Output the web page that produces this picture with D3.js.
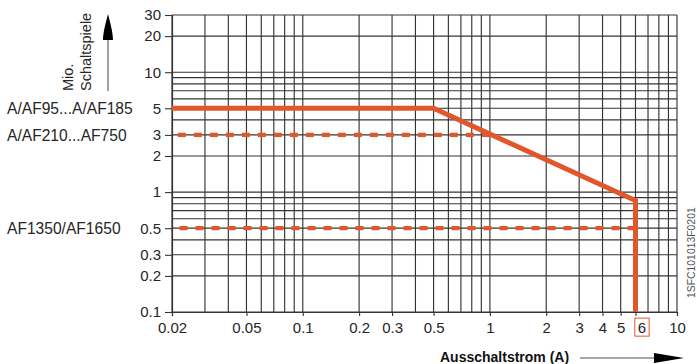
<!DOCTYPE html>
<html>
<head>
<meta charset="utf-8">
<script src="https://cdn.jsdelivr.net/npm/d3@7"></script>
<style>
  html, body { margin: 0; padding: 0; background: #fff; }
  svg { display: block; font-family: "Liberation Sans", Arial, Helvetica, sans-serif; }
</style>
</head>
<body>
<svg id="chart" width="697" height="364"></svg>
<script>
// Switching current (A) vs. electrical durability (million operations)
const xTickValues = [0.02, 0.05, 0.1, 0.2, 0.3, 0.5, 1, 2, 3, 4, 5, 6, 10];
const xTickLabels = ["0.02", "0.05", "0.1", "0.2", "0.3", "0.5", "1", "2", "3", "4", "5", "6", "10"];
const yTickValues = [0.1, 0.2, 0.3, 0.5, 1, 2, 3, 5, 10, 20, 30];
const yTickLabels = ["0.1", "0.2", "0.3", "0.5", "1", "2", "3", "5", "10", "20", "30"];

// Contactor families and their rated durability levels
const seriesNames = ["A/AF95...A/AF185", "A/AF210...AF750", "AF1350/AF1650"];
const seriesLevels = [5, 3, 0.5];

// Curve for A/AF95...A/AF185 (solid)
const curveA_current = [0.02, 0.5, 6, 6];
const curveA_ops = [5, 5, 0.85, 0.1];
// A/AF210...AF750 (dashed)
const curveB_current = [0.02, 1];
const curveB_ops = [3, 3];
// AF1350/AF1650 (dashed)
const curveC_current = [0.02, 6];
const curveC_ops = [0.5, 0.5];

const highlightedTick = 6;

const svg = d3.select("#chart");
const ORANGE = "#e1562b";
const GRID = "#353535";
const TEXT = "#262626";

const x = d3.scaleLog().domain([0.02, 10]).range([172, 677]);
const y = d3.scaleLog().domain([0.1, 30]).range([312, 15]);

// grid values: every 1..9 multiple within each decade
function logGrid(lo, hi) {
  const out = [];
  for (let e = -3; e <= 2; e++) {
    for (let k = 1; k <= 9; k++) {
      const v = +(k * Math.pow(10, e)).toPrecision(6);
      if (v >= lo - 1e-9 && v <= hi + 1e-9) out.push(v);
    }
  }
  return out;
}
const xGrid = logGrid(0.02, 10);
const yGrid = logGrid(0.1, 30).filter(v => v <= 10 || v === 20 || v === 30);

const grid = svg.append("g");
grid.selectAll("line.vx").data(xGrid).join("line")
  .attr("x1", d => x(d)).attr("x2", d => x(d))
  .attr("y1", y(30)).attr("y2", y(0.1))
  .attr("stroke", GRID).attr("stroke-width", 1.15);
grid.selectAll("line.hy").data(yGrid).join("line")
  .attr("x1", x(0.02)).attr("x2", x(10))
  .attr("y1", d => y(d)).attr("y2", d => y(d))
  .attr("stroke", GRID).attr("stroke-width", 1.15);

// Axes (ticks + labels) via d3 axis generators
const yAxis = d3.axisLeft(y).tickValues(yTickValues)
  .tickFormat((d, i) => yTickLabels[i]).tickSize(7).tickPadding(4);
const gy = svg.append("g").attr("transform", `translate(${x(0.02)},0)`).call(yAxis);
gy.select(".domain").attr("stroke", GRID).attr("stroke-width", 1.2);
gy.selectAll(".tick line").attr("stroke", GRID).attr("stroke-width", 1.1);
gy.selectAll(".tick text").attr("font-size", 15).attr("fill", TEXT)
  .attr("font-family", "Liberation Sans, Arial, sans-serif");

const xAxis = d3.axisBottom(x).tickValues(xTickValues)
  .tickFormat((d, i) => xTickLabels[i]).tickSize(4).tickPadding(6);
const gx = svg.append("g").attr("transform", `translate(0,${y(0.1)})`).call(xAxis);
gx.select(".domain").attr("stroke", GRID).attr("stroke-width", 1.2);
gx.selectAll(".tick line").attr("stroke", GRID).attr("stroke-width", 1.1);
gx.selectAll(".tick text").attr("font-size", 15).attr("fill", TEXT)
  .attr("font-family", "Liberation Sans, Arial, sans-serif");

// the highlighted "6" label sits right of the vertical curve segment, framed
gx.selectAll(".tick").filter(d => d === highlightedTick).each(function () {
  const t = d3.select(this).select("text").attr("dx", 6);
  const bb = t.node().getBBox();
  d3.select(this).append("rect")
    .attr("x", bb.x - 3).attr("y", bb.y - 0.5)
    .attr("width", bb.width + 6).attr("height", bb.height + 1)
    .attr("fill", "none").attr("stroke", ORANGE).attr("stroke-width", 1);
});

// Curves (dashed ones drawn from their right end so a dash meets the end point)
const line = d3.line().x(d => x(d[0])).y(d => y(d[1]));
const zip = (a, b) => a.map((v, i) => [v, b[i]]);

svg.append("path").datum(zip(curveB_current, curveB_ops).reverse())
  .attr("d", line).attr("fill", "none").attr("stroke", ORANGE)
  .attr("stroke-width", 4.2).attr("stroke-dasharray", "8,8");
svg.append("path").datum(zip(curveC_current, curveC_ops).reverse())
  .attr("d", line).attr("fill", "none").attr("stroke", ORANGE)
  .attr("stroke-width", 4.2).attr("stroke-dasharray", "8,8");
svg.append("path").datum(zip(curveA_current, curveA_ops))
  .attr("d", line).attr("fill", "none").attr("stroke", ORANGE)
  .attr("stroke-width", 5).attr("stroke-linejoin", "miter");

// Series labels at the left
svg.append("g").selectAll("text").data(seriesNames).join("text")
  .attr("x", 7).attr("y", (d, i) => y(seriesLevels[i]))
  .attr("dy", "0.36em").attr("font-size", 15.6).attr("fill", TEXT)
  .text(d => d);

// Y axis title with upward arrow
svg.append("text").attr("transform", "translate(73,91) rotate(-90)")
  .attr("font-size", 14.5).attr("fill", TEXT).text("Mio.");
svg.append("text").attr("transform", "translate(90.5,91) rotate(-90)")
  .attr("font-size", 14.5).attr("fill", TEXT).text("Schaltspiele");
svg.append("line").attr("x1", 108).attr("x2", 108).attr("y1", 91).attr("y2", 38)
  .attr("stroke", "#8a8a8a").attr("stroke-width", 1.6);
svg.append("path").attr("d", "M108,14 C109.5,20 113,32 113,40 L103,40 C103,32 106.5,20 108,14 Z")
  .attr("fill", "#000");

// X axis title with right arrow
svg.append("text").attr("x", 440).attr("y", 362)
  .attr("font-size", 14).attr("font-weight", "bold").attr("fill", "#111")
  .text("Ausschaltstrom (A)");
svg.append("line").attr("x1", 580).attr("x2", 660).attr("y1", 358).attr("y2", 358)
  .attr("stroke", "#8a8a8a").attr("stroke-width", 1.6);
svg.append("path").attr("d", "M684,358 L654,353 L654,363 Z").attr("fill", "#000");

// Drawing reference code
svg.append("text").attr("transform", "translate(695,298) rotate(-90)")
  .attr("font-size", 10.4).attr("fill", "#555").text("1SFC101013F0201");
</script>
</body>
</html>
